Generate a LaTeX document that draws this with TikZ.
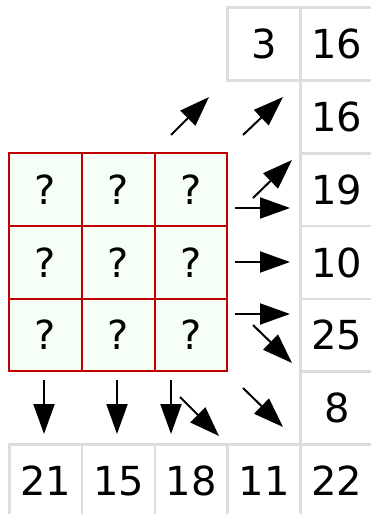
\documentclass[tikz,border=0pt]{standalone}
\usepackage{fontspec}
\setmainfont{DejaVu Sans}
\usetikzlibrary{arrows.meta}
\definecolor{gridred}{HTML}{C00000}
\definecolor{cellfill}{HTML}{F5FFF5}
\definecolor{gridgray}{HTML}{DDDDDD}
\tikzset{
  unk/.style={draw=gridred, line width=2pt, fill=cellfill, minimum size=72.8pt, inner sep=0pt, anchor=north west, font=\fontsize{40}{48}\selectfont},
  clue/.style={draw=gridgray, line width=2.5pt, minimum size=72.8pt, inner sep=0pt, anchor=north west, font=\fontsize{40}{48}\selectfont},
  arr/.style={line width=2pt, -{Triangle[length=30pt 0 0, width=21pt 0 0]}}
}
\begin{document}
\begin{tikzpicture}[x=1pt,y=-1pt]
\useasboundingbox (0,0) rectangle (370,514);
% clue cells
\node[clue] (t3) at (226.4,6.4) {3};
\node[clue] (t16) at (299.2,6.4) {16};
\node[clue] (r1) at (299.2,79.2) {16};
\node[clue] (r2) at (299.2,152) {19};
\node[clue] (r3) at (299.2,224.8) {10};
\node[clue] (r4) at (299.2,297.6) {25};
\node[clue] (r5) at (299.2,370.4) {8};
\node[clue] (r6) at (299.2,443.2) {22};
\node[clue] (b1) at (8,443.2) {21};
\node[clue] (b2) at (80.8,443.2) {15};
\node[clue] (b3) at (153.6,443.2) {18};
\node[clue] (b4) at (226.4,443.2) {11};
% unknown cells
\foreach \i in {0,1,2}{
  \foreach \j in {0,1,2}{
    \node[unk] (u\i\j) at ({8+72.8*\i},{152+72.8*\j}) {?};
  }
}
% arrow endpoints
\coordinate (a1s) at (171,135); \coordinate (a1e) at (209,97);
\coordinate (a2s) at (243,135); \coordinate (a2e) at (283,97);
\coordinate (a3s) at (253,198); \coordinate (a3e) at (292,160);
\coordinate (h1s) at (235,208); \coordinate (h1e) at (290,208);
\coordinate (h2s) at (235,262); \coordinate (h2e) at (290,262);
\coordinate (h3s) at (235,314); \coordinate (h3e) at (290,314);
\coordinate (d1s) at (253,325); \coordinate (d1e) at (292,363);
\coordinate (v1s) at (44,380); \coordinate (v1e) at (44,434);
\coordinate (v2s) at (117,380); \coordinate (v2e) at (117,434);
\coordinate (v3s) at (171,380); \coordinate (v3e) at (171,434);
\coordinate (d2s) at (180,397); \coordinate (d2e) at (219,436);
\coordinate (d3s) at (243,388); \coordinate (d3e) at (283,427);
\foreach \p in {a1,a2,a3,h1,h2,h3,d1,v1,v2,v3,d2,d3}{
  \draw[arr] (\p s) -- (\p e);
}
\end{tikzpicture}
\end{document}
